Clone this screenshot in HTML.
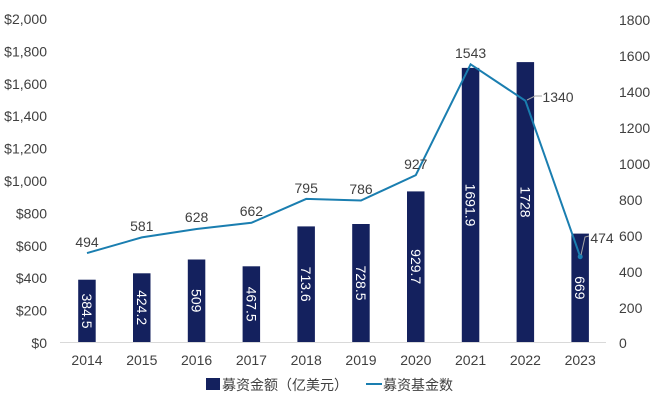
<!DOCTYPE html>
<html><head><meta charset="utf-8"><style>
html,body{margin:0;padding:0;background:#fff;}
svg{display:block;font-family:"Liberation Sans","Noto Sans CJK SC",sans-serif;}
</style></head><body>
<svg width="650" height="402" viewBox="0 0 650 402">
<g font-size="14" fill="#404040">
<g text-anchor="end">
<text x="47" y="24">$2,000</text><text x="47" y="56.4">$1,800</text><text x="47" y="88.8">$1,600</text><text x="47" y="121.2">$1,400</text><text x="47" y="153.6">$1,200</text><text x="47" y="186">$1,000</text><text x="47" y="218.4">$800</text><text x="47" y="250.8">$600</text><text x="47" y="283.2">$400</text><text x="47" y="315.6">$200</text><text x="47" y="348">$0</text>
</g>
<g text-anchor="start">
<text x="619" y="25">1800</text><text x="619" y="61">1600</text><text x="619" y="97">1400</text><text x="619" y="133">1200</text><text x="619" y="169">1000</text><text x="619" y="205">800</text><text x="619" y="241">600</text><text x="619" y="277">400</text><text x="619" y="313">200</text><text x="619" y="348">0</text>
</g>
</g>
<line x1="60" y1="342.5" x2="606" y2="342.5" stroke="#d9d9d9" stroke-width="1"/>
<g fill="#14215e">
<rect x="78.2" y="279.7" width="17.5" height="62.3"/>
<rect x="133" y="273.3" width="17.5" height="68.7"/>
<rect x="187.8" y="259.5" width="17.5" height="82.5"/>
<rect x="242.6" y="266.3" width="17.5" height="75.7"/>
<rect x="297.4" y="226.4" width="17.5" height="115.6"/>
<rect x="352.2" y="224" width="17.5" height="118"/>
<rect x="407" y="191.4" width="17.5" height="150.6"/>
<rect x="461.8" y="67.9" width="17.5" height="274.1"/>
<rect x="516.6" y="62.1" width="17.5" height="279.9"/>
<rect x="571.4" y="233.6" width="17.5" height="108.4"/>
</g>
<g fill="#fff" font-size="14" text-anchor="middle">
<text transform="translate(82,311) rotate(90)">384.5</text>
<text transform="translate(136.8,307.6) rotate(90)">424.2</text>
<text transform="translate(191.6,300.7) rotate(90)">509</text>
<text transform="translate(246.4,304.1) rotate(90)">467.5</text>
<text transform="translate(301.2,284.2) rotate(90)">713.6</text>
<text transform="translate(356,283) rotate(90)">728.5</text>
<text transform="translate(410.8,266.7) rotate(90)">929.7</text>
<text transform="translate(465.6,205) rotate(90)">1691.9</text>
<text transform="translate(520.4,202) rotate(90)">1728</text>
<text transform="translate(575.2,287.8) rotate(90)">669</text>
</g>
<polyline fill="none" stroke="#1a7eb0" stroke-width="2" points="87,253.1 141.8,237.4 196.6,229 251.4,222.8 306.2,198.9 361,200.5 415.8,175.1 470.6,64.3 525.4,100.8 580.2,256.7"/>
<circle cx="580.2" cy="256.7" r="2.5" fill="#1a7eb0"/>
<polyline fill="none" stroke="#a6a6a6" stroke-width="1" points="527,100 535,96 542,96"/>
<polyline fill="none" stroke="#a6a6a6" stroke-width="1" points="581,255 585,237 589,236"/>
<g font-size="14" fill="#404040" text-anchor="middle">
<text x="87" y="247">494</text>
<text x="141.8" y="231">581</text>
<text x="196.6" y="222">628</text>
<text x="251.4" y="216">662</text>
<text x="306.2" y="193">795</text>
<text x="361" y="194">786</text>
<text x="415.8" y="169">927</text>
<text x="470.6" y="58">1543</text>
<text x="558" y="102">1340</text>
<text x="602" y="243">474</text>
</g>
<g font-size="14" fill="#404040" text-anchor="middle">
<text x="87" y="365">2014</text><text x="141.8" y="365">2015</text><text x="196.6" y="365">2016</text><text x="251.4" y="365">2017</text><text x="306.2" y="365">2018</text><text x="361" y="365">2019</text><text x="415.8" y="365">2020</text><text x="470.6" y="365">2021</text><text x="525.4" y="365">2022</text><text x="580.2" y="365">2023</text>
</g>
<rect x="206" y="378" width="14" height="12" fill="#14215e"/>
<text x="222" y="390" font-size="14" fill="#404040">募资金额（亿美元）</text>
<line x1="366" y1="384" x2="382" y2="384" stroke="#1a7eb0" stroke-width="2"/>
<text x="383" y="390" font-size="14" fill="#404040">募资基金数</text>
</svg>
</body></html>
